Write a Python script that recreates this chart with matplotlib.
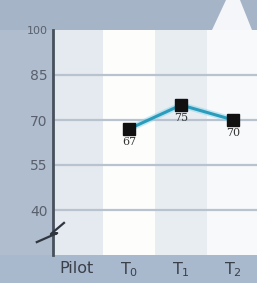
import matplotlib.pyplot as plt
from matplotlib.patches import Polygon, Rectangle

# --- Datos ---
categories = ['Pilot', 'T$_0$', 'T$_1$', 'T$_2$']
point_x = [1, 2, 3]
point_values = [67, 75, 70]
point_labels = ['67', '75', '70']
y_ticks = [40, 55, 70, 85, 100]
column_colors = ['#e5eaf0', '#fdfdfc', '#e8edf2', '#f8f9fb']

W, H = 257, 283
fig = plt.figure(figsize=(W / 100, H / 100), dpi=100, facecolor='#b0bdce')

# franjas de fondo del marco (debajo de los ejes)
fig.patches.append(Rectangle((0, (H - 30) / H), 1, 30 / H, transform=fig.transFigure,
                             facecolor='#a6b4c7', edgecolor='none', zorder=-2))
fig.patches.append(Rectangle((0, 0), 1, 28 / H, transform=fig.transFigure,
                             facecolor='#a8b8cd', edgecolor='none', zorder=-2))
# pico blanco decorativo arriba a la derecha
fig.patches.append(Polygon([(212 / W, (H - 30) / H), (226 / W, 1.0), (240 / W, 1.0),
                            (252 / W, (H - 30) / H)],
                           closed=True, transform=fig.transFigure,
                           facecolor='#f4f6f9', edgecolor='none', zorder=-1))

ax = fig.add_axes([53 / W, 28 / H, 1 - 53 / W + 0.02, 225 / H])
ax.set_xlim(-0.45, 3.55)
ax.set_ylim(25, 100)

# columnas
for i, c in enumerate(column_colors):
    ax.axvspan(i - 0.5, i + 0.5, color=c, zorder=0, lw=0)

# líneas de cuadrícula
for v in y_ticks[:-1]:
    ax.axhline(v, color='#b8c3cf', lw=1.6, zorder=1)

# línea de datos con un leve brillo
ax.plot(point_x, point_values, color='#8fd6ea', lw=4.5, alpha=0.5, zorder=2,
        solid_capstyle='round')
ax.plot(point_x, point_values, color='#2b9cbc', lw=2.2, zorder=3)
ax.plot(point_x, point_values, ls='none', marker='s', markersize=8,
        color='#111111', zorder=4)

for x, v, t in zip(point_x, point_values, point_labels):
    ax.annotate(t, (x, v), xytext=(0, -6), textcoords='offset points',
                ha='center', va='top', fontsize=8, color='#333333',
                family='DejaVu Serif', zorder=5)

# ejes
for s in ['top', 'right', 'bottom']:
    ax.spines[s].set_visible(False)
ax.spines['left'].set_color('#47505c')
ax.spines['left'].set_linewidth(2)

ax.set_yticks(y_ticks)
ax.set_yticklabels([str(v) for v in y_ticks])
ax.tick_params(axis='y', length=0, pad=4, labelsize=10, labelcolor='#59606c')
for lbl in ax.get_yticklabels():
    if lbl.get_text() == '100':
        lbl.set_fontsize(8)

ax.set_xticks(range(len(categories)))
ax.set_xticklabels(categories)
ax.tick_params(axis='x', length=0, pad=4, labelsize=11.5, labelcolor='#3a4049')

# corte del eje (zigzag tipo rayo)
ax.plot([-0.24, -0.49, -0.37, -0.76], [35.7, 32.0, 32.3, 29.3], color='#2f3640',
        lw=1.6, transform=ax.transData, clip_on=False, zorder=6)

fig.savefig('out.png', dpi=100, facecolor=fig.get_facecolor())
